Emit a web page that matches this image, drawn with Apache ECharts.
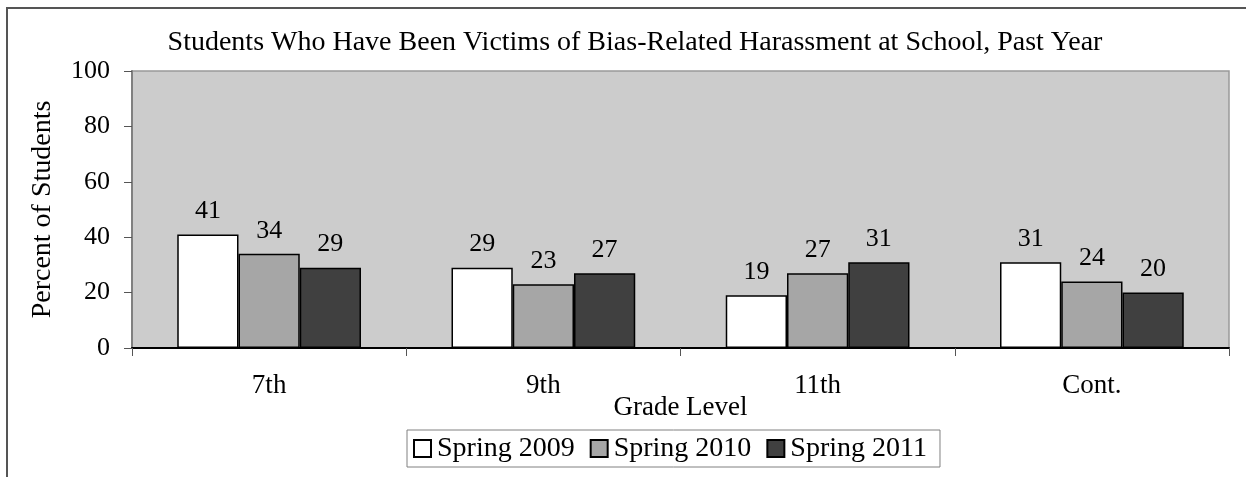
<!DOCTYPE html>
<html>
<head>
<meta charset="utf-8">
<script src="https://cdn.jsdelivr.net/npm/echarts@6/dist/echarts.min.js"></script>
<style>
  html, body { margin: 0; padding: 0; background: #fff; }
  #chart { width: 1246px; height: 477px; }
</style>
</head>
<body>
<div id="chart"></div>
<script>
var grades = ['7th', '9th', '11th', 'Cont.'];
var spring2009 = [41, 29, 19, 31];
var spring2010 = [34, 23, 27, 24];
var spring2011 = [29, 27, 31, 20];
var seriesNames = ['Spring 2009', 'Spring 2010', 'Spring 2011'];
var colors = ['#ffffff', '#a6a6a6', '#404040'];

var font = 'Liberation Serif';

function bar(name, data, color) {
  return {
    name: name,
    type: 'bar',
    data: data,
    barGap: '0%',
    barCategoryGap: '33%',
    itemStyle: { color: color, borderColor: '#000', borderWidth: 1.5 },
    label: {
      show: true,
      position: 'top',
      distance: 10,
      color: '#000',
      fontFamily: font,
      fontSize: 26
    }
  };
}

var myChart = echarts.init(document.getElementById('chart'));
var option = {
  animation: false,
  title: {
    text: 'Students Who Have Been Victims of Bias-Related Harassment at School, Past Year',
    left: 630,
    textAlign: 'center',
    top: 24,
    textStyle: { fontFamily: font, fontSize: 28, fontWeight: 'normal', color: '#000' }
  },
  legend: {
    data: seriesNames,
    top: 430,
    left: 407,
    padding: [3, 13, 3, 6],
    borderColor: '#808080',
    borderWidth: 1,
    backgroundColor: '#fff',
    itemWidth: 17,
    itemHeight: 17,
    itemGap: 15,
    icon: 'rect',
    textStyle: { fontFamily: font, fontSize: 28, lineHeight: 31, color: '#000', padding: [0, 0, 0, 1] }
  },
  grid: {
    left: 132,
    right: 17,
    top: 71,
    bottom: 129,
    show: true,
    backgroundColor: '#cccccc',
    borderColor: '#999',
    borderWidth: 1.5
  },
  xAxis: {
    type: 'category',
    data: grades,
    name: 'Grade Level',
    nameLocation: 'middle',
    nameGap: 46,
    nameMoveOverlap: false,
    nameTextStyle: { fontFamily: font, fontSize: 27, color: '#000' },
    axisLine: { lineStyle: { color: '#000', width: 2 } },
    axisTick: { show: true, length: 8, lineStyle: { color: '#555' } },
    axisLabel: { fontFamily: font, fontSize: 27, color: '#000', margin: 24 }
  },
  yAxis: {
    type: 'value',
    min: 0,
    max: 100,
    interval: 20,
    name: 'Percent of Students',
    nameLocation: 'middle',
    nameGap: 75,
    nameMoveOverlap: false,
    nameTextStyle: { fontFamily: font, fontSize: 28, color: '#000' },
    splitLine: { show: false },
    axisLine: { show: true, lineStyle: { color: '#808080', width: 2 } },
    axisTick: { show: true, length: 8, lineStyle: { color: '#555' } },
    axisLabel: { fontFamily: font, fontSize: 26, color: '#000', margin: 22 }
  },
  graphic: [{
    type: 'rect',
    shape: { x: 7, y: 8, width: 1260, height: 490 },
    style: { fill: 'none', stroke: '#555', lineWidth: 2 },
    silent: true
  }],
  series: [
    bar(seriesNames[0], spring2009, colors[0]),
    bar(seriesNames[1], spring2010, colors[1]),
    bar(seriesNames[2], spring2011, colors[2])
  ]
};
myChart.setOption(option);
</script>
</body>
</html>
